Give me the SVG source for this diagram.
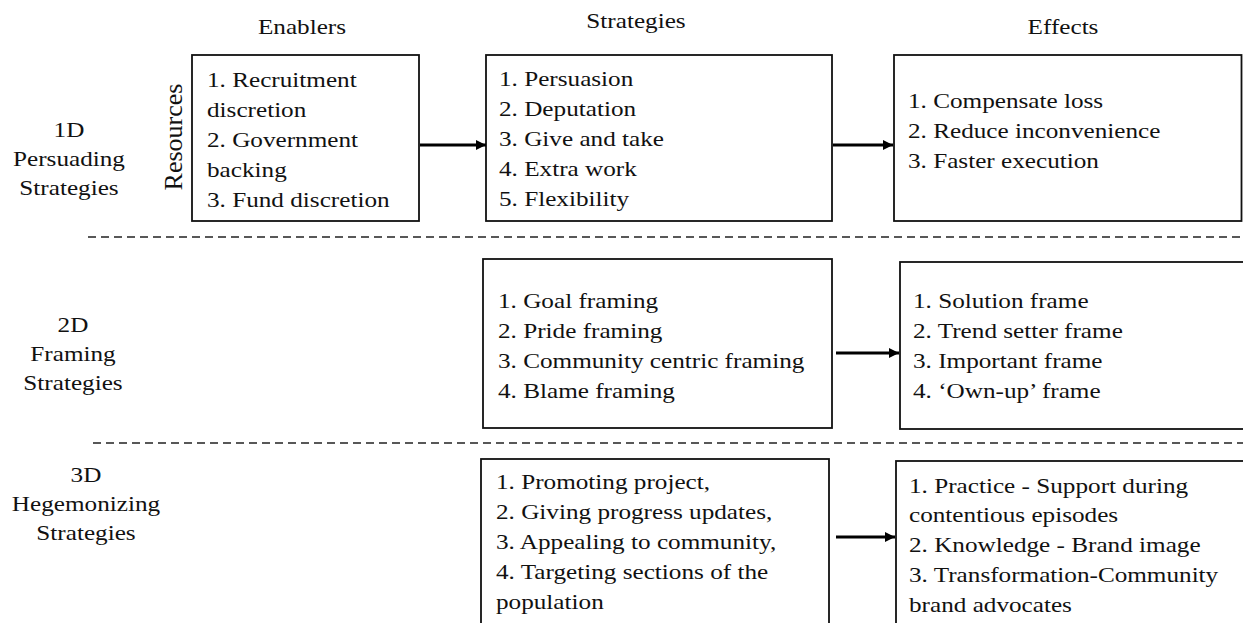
<svg xmlns="http://www.w3.org/2000/svg" width="1243" height="623" viewBox="0 0 1243 623">
  <style>
    text { font-family: "Liberation Serif", "Times New Roman", serif; font-size: 20px; fill: #111; }
    .mid { text-anchor: middle; }
    .box { fill: #fff; stroke: #111; stroke-width: 1.8; }
    .arrow { stroke: #000; stroke-width: 3; fill: none; }
    .divider { stroke: #222; stroke-width: 1.6; stroke-dasharray: 8 5; fill: none; }
  </style>
  <defs>
    <marker id="head" markerUnits="userSpaceOnUse" markerWidth="11" markerHeight="11" refX="10" refY="5" orient="auto">
      <path d="M0,0 L10,5 L0,10 z" fill="#000"/>
    </marker>
  </defs>
  <rect width="1243" height="623" fill="#fff"/>

  <!-- column headings (type is set wide: x scaled by 1.26) -->
  <g id="headings">
    <text class="mid" transform="translate(302 34) scale(1.26 1)">Enablers</text>
    <text class="mid" transform="translate(636 28) scale(1.26 1)">Strategies</text>
    <text class="mid" transform="translate(1063 34) scale(1.26 1)">Effects</text>
  </g>

  <!-- row labels -->
  <g id="row-1d" transform="translate(69 0) scale(1.26 1)">
    <text class="mid" y="137">1D</text>
    <text class="mid" y="166">Persuading</text>
    <text class="mid" y="195">Strategies</text>
  </g>
  <g id="row-2d" transform="translate(73 0) scale(1.26 1)">
    <text class="mid" y="332">2D</text>
    <text class="mid" y="361">Framing</text>
    <text class="mid" y="390">Strategies</text>
  </g>
  <g id="row-3d" transform="translate(86 0) scale(1.26 1)">
    <text class="mid" y="482">3D</text>
    <text class="mid" y="511">Hegemonizing</text>
    <text class="mid" y="540">Strategies</text>
  </g>

  <!-- section dividers -->
  <g id="dividers">
    <line class="divider" x1="88" y1="237" x2="1243" y2="237"/>
    <line class="divider" x1="93" y1="443" x2="1243" y2="443"/>
  </g>

  <!-- 1D row -->
  <g id="enablers-1d">
    <text class="mid" style="font-size:26px" transform="translate(182,137) rotate(-90)">Resources</text>
    <rect class="box" x="192" y="55" width="227" height="166"/>
    <g transform="translate(207 0) scale(1.26 1)">
      <text y="87">1. Recruitment</text>
      <text y="117">discretion</text>
      <text y="147">2. Government</text>
      <text y="177">backing</text>
      <text y="207">3. Fund discretion</text>
    </g>
  </g>
  <g id="strategies-1d">
    <rect class="box" x="486" y="55" width="346" height="166"/>
    <g transform="translate(499 0) scale(1.26 1)">
      <text y="86">1. Persuasion</text>
      <text y="116">2. Deputation</text>
      <text y="146">3. Give and take</text>
      <text y="176">4. Extra work</text>
      <text y="206">5. Flexibility</text>
    </g>
  </g>
  <g id="effects-1d">
    <rect class="box" x="894" y="55" width="347.5" height="166"/>
    <g transform="translate(908 0) scale(1.26 1)">
      <text y="108">1. Compensate loss</text>
      <text y="138">2. Reduce inconvenience</text>
      <text y="168">3. Faster execution</text>
    </g>
  </g>

  <!-- 2D row -->
  <g id="strategies-2d">
    <rect class="box" x="483" y="259" width="349" height="169"/>
    <g transform="translate(498 0) scale(1.26 1)">
      <text y="308">1. Goal framing</text>
      <text y="338">2. Pride framing</text>
      <text y="368">3. Community centric framing</text>
      <text y="398">4. Blame framing</text>
    </g>
  </g>
  <g id="effects-2d">
    <rect class="box" x="900" y="262" width="345" height="167"/>
    <g transform="translate(913 0) scale(1.26 1)">
      <text y="308">1. Solution frame</text>
      <text y="338">2. Trend setter frame</text>
      <text y="368">3. Important frame</text>
      <text y="398">4. ‘Own-up’ frame</text>
    </g>
  </g>

  <!-- 3D row -->
  <g id="strategies-3d">
    <rect class="box" x="481" y="459" width="348" height="175"/>
    <g transform="translate(496 0) scale(1.26 1)">
      <text y="489">1. Promoting project,</text>
      <text y="519">2. Giving progress updates,</text>
      <text y="549">3. Appealing to community,</text>
      <text y="579">4. Targeting sections of the</text>
      <text y="609">population</text>
    </g>
  </g>
  <g id="effects-3d">
    <rect class="box" x="896" y="461" width="349" height="173"/>
    <g transform="translate(909 0) scale(1.26 1)">
      <text y="493">1. Practice - Support during</text>
      <text y="522">contentious episodes</text>
      <text y="552">2. Knowledge - Brand image</text>
      <text y="582">3. Transformation-Community</text>
      <text y="612">brand advocates</text>
    </g>
  </g>

  <!-- connectors -->
  <g id="connectors">
    <line class="arrow" x1="420" y1="145" x2="486" y2="145" marker-end="url(#head)"/>
    <line class="arrow" x1="833" y1="145" x2="893" y2="145" marker-end="url(#head)"/>
    <line class="arrow" x1="836" y1="353" x2="899" y2="353" marker-end="url(#head)"/>
    <line class="arrow" x1="836" y1="537" x2="895" y2="537" marker-end="url(#head)"/>
  </g>
</svg>
